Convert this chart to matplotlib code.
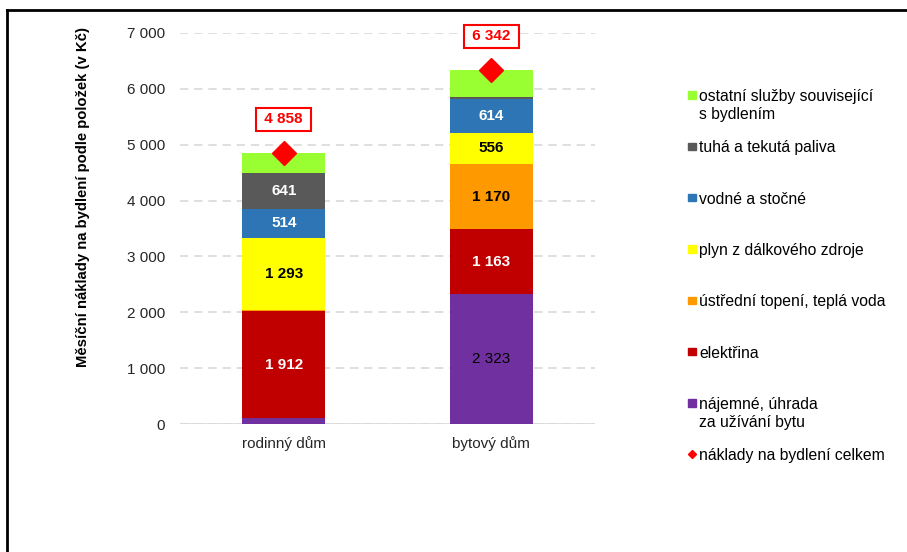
import numpy as np
import matplotlib.pyplot as plt
from matplotlib.patches import Rectangle
from matplotlib.lines import Line2D

plt.rcParams['font.family'] = ['Liberation Sans', 'DejaVu Sans']

categories = ['rodinný dům', 'bytový dům']

# stack order bottom -> top
series_names = ['nájemné, úhrada\nza užívání bytu', 'elektřina', 'ústřední topení, teplá voda',
                'plyn z dálkového zdroje', 'vodné a stočné', 'tuhá a tekutá paliva',
                'ostatní služby související\ns bydlením']
najemne = [105, 2323]
elektrina = [1912, 1163]
ustredni = [25, 1170]
plyn = [1293, 556]
vodne = [514, 614]
paliva = [641, 30]
ostatni = [368, 486]
totals = [4858, 6342]
total_name = 'náklady na bydlení celkem'

colors = ['#7030A0', '#C00000', '#FF9900', '#FFFF00', '#2E75B6', '#595959', '#99FF33']
label_colors = ['black', 'white', 'black', 'black', 'white', 'white', 'black']
label_bold = [False, True, True, True, True, True, True]

values = [najemne, elektrina, ustredni, plyn, vodne, paliva, ostatni]

def fmt(v):
    return f'{int(v):,}'.replace(',', ' ')

W, H = 907, 552
fig = plt.figure(figsize=(W / 100, H / 100), dpi=100)
ax = fig.add_axes([180 / W, 1 - 424 / H, 415 / W, 391 / H])

x = np.arange(len(categories))
bottom = np.zeros(len(categories))
for vals, col, lc, lb in zip(values, colors, label_colors, label_bold):
    vals = np.array(vals, dtype=float)
    ax.bar(x, vals, 0.40, bottom=bottom, color=col, zorder=2)
    for xi, v, b in zip(x, vals, bottom):
        if v > 500:
            ax.text(xi, b + v / 2, fmt(v), ha='center', va='center',
                    color=lc, fontsize=11, fontweight='bold' if lb else 'normal', zorder=3)
    bottom += vals

ax.plot(x, totals, linestyle='none', marker='D', markersize=12.5, color='#FF0000', zorder=4)
for xi, t in zip(x, totals):
    ax.annotate(' ' + fmt(t) + ' ', (xi, t), xytext=(0, 24), textcoords='offset points',
                ha='center', va='center', color='#FF0000', fontsize=11, fontweight='bold',
                bbox=dict(boxstyle='square,pad=0.28', fc='white', ec='#FF0000', lw=1.5), zorder=5)

ax.set_xlim(-0.5, 1.5)
ax.set_ylim(0, 7000)
ax.set_yticks(np.arange(0, 7001, 1000))
ax.set_yticklabels([fmt(v) for v in range(0, 7001, 1000)])
ax.set_xticks(x)
ax.set_xticklabels(categories)
ax.tick_params(axis='both', length=0, labelsize=11, colors='#262626')
ax.tick_params(axis='y', pad=10.8)
ax.tick_params(axis='x', pad=8.5)
for s in ax.spines.values():
    s.set_visible(False)
ax.yaxis.grid(True, color='#D9D9D9', linestyle=(0, (5, 3.5)), linewidth=1.2, zorder=0)
ax.axhline(0, color='#D9D9D9', linewidth=1.2, zorder=1)
ax.set_axisbelow(True)

fig.text(83 / W, 1 - 197 / H, 'Měsíční náklady na bydlení podle položek (v Kč)', rotation=90,
         ha='center', va='center', fontsize=10.7, fontweight='bold', color='black')

# legend (reverse stack order, total last)
ly0 = 95
step = 51.3
leg_names = series_names[::-1]
leg_cols = colors[::-1]
for i, (name, col) in enumerate(zip(leg_names, leg_cols)):
    yc = ly0 + i * step
    fig.patches.append(Rectangle((688 / W, 1 - (yc + 3.8) / H), 7.5 / W, 7.5 / H,
                                 transform=fig.transFigure, color=col))
    fig.text(699 / W, 1 - (yc - 6) / H, name, ha='left', va='top', fontsize=11.3,
             color='black', linespacing=1.28)
yc = ly0 + len(leg_names) * step
fig.add_artist(Line2D([692 / W], [1 - yc / H], marker='D', markersize=4, color='#FF0000',
                      linestyle='none', transform=fig.transFigure))
fig.text(699 / W, 1 - (yc - 6) / H, total_name, ha='left', va='top', fontsize=11.3, color='black')

# frame
fig.add_artist(Line2D([6.5 / W, 6.5 / W], [0, 1 - 9.5 / H], color='black', lw=2, transform=fig.transFigure))
fig.add_artist(Line2D([6.5 / W, 1], [1 - 9.5 / H, 1 - 9.5 / H], color='black', lw=2, transform=fig.transFigure))

fig.savefig('out.png', dpi=100)
